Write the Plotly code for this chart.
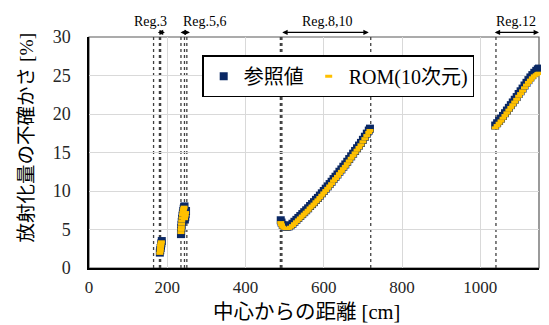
import plotly.graph_objects as go

# ---------------- data ----------------
# Reference (参照値) points: distance [cm], uncertainty [%]
ref_x = [181, 182, 183, 184, 185, 186,
         235, 235.5, 236, 236.5, 237, 238, 239, 240, 241, 242, 243, 244, 245, 246, 247, 248,
         490, 492, 495, 500, 505, 510, 515, 520, 525, 530, 535, 540, 545, 550, 555, 560, 565, 570,
         575, 580, 585, 590, 595, 600, 605, 610, 615, 620, 625, 630, 635, 640, 645, 650, 655, 660,
         665, 670, 675, 680, 685, 690, 695, 700, 705, 710, 715, 718,
         1038, 1043, 1048, 1053, 1058, 1063, 1068, 1073, 1078, 1083, 1088, 1093, 1098, 1103, 1108,
         1113, 1118, 1123, 1128, 1133, 1138, 1143, 1147, 1150]
ref_y = [2.0, 2.3, 2.6, 2.9, 3.2, 3.5,
         4.4, 4.8, 5.2, 5.6, 6.0, 6.4, 6.8, 7.1, 7.4, 7.7, 7.9, 8.0, 6.3, 6.6, 7.0, 7.4,
         6.2, 5.9, 5.6, 5.4, 5.35, 5.4, 5.55, 5.75, 6.0, 6.25, 6.5, 6.75, 7.0, 7.25, 7.5, 7.75, 8.05, 8.3,
         8.55, 8.85, 9.1, 9.4, 9.7, 10.0, 10.3, 10.6, 10.9, 11.2, 11.55, 11.85, 12.15, 12.5, 12.8, 13.15, 13.45, 13.8,
         14.15, 14.5, 14.85, 15.2, 15.55, 15.9, 16.25, 16.65, 17.05, 17.45, 17.85, 18.1,
         18.5, 18.8, 19.1, 19.4, 19.75, 20.1, 20.45, 20.8, 21.15, 21.5, 21.85, 22.2, 22.6, 22.95, 23.3,
         23.7, 24.05, 24.4, 24.75, 25.05, 25.35, 25.6, 25.8, 25.9]

# ROM (10次元) points
rom_x = [181, 182, 182.5, 183, 183.5, 184, 185,
         235, 235.5, 236, 236.5, 237, 238, 239, 240, 241, 242, 243, 244, 245, 246, 247,
         490, 492, 495, 500, 505, 510, 515, 520, 525, 530, 535, 540, 545, 550, 555, 560, 565, 570,
         575, 580, 585, 590, 595, 600, 605, 610, 615, 620, 625, 630, 635, 640, 645, 650, 655, 660,
         665, 670, 675, 680, 685, 690, 695, 700, 705, 710, 715, 718,
         1038, 1043, 1048, 1053, 1058, 1063, 1068, 1073, 1078, 1083, 1088, 1093, 1098, 1103, 1108,
         1113, 1118, 1123, 1128, 1133, 1138, 1143, 1147, 1150]
rom_y = [1.9, 2.2, 2.5, 2.8, 3.0, 3.2, 3.4,
         4.6, 5.0, 5.3, 5.7, 6.1, 6.5, 6.9, 7.2, 7.5, 7.7, 7.9, 6.4, 6.7, 6.9, 7.2,
         5.9, 5.6, 5.3, 5.15, 5.1, 5.15, 5.3, 5.5, 5.75, 6.0, 6.25, 6.5, 6.75, 7.0, 7.25, 7.5, 7.8, 8.05,
         8.3, 8.6, 8.85, 9.15, 9.45, 9.75, 10.05, 10.35, 10.65, 10.95, 11.3, 11.6, 11.9, 12.25, 12.55, 12.9, 13.2, 13.55,
         13.9, 14.25, 14.6, 14.95, 15.3, 15.65, 16.0, 16.4, 16.8, 17.2, 17.6, 17.85,
         18.2, 18.5, 18.8, 19.1, 19.45, 19.8, 20.15, 20.5, 20.85, 21.2, 21.55, 21.9, 22.3, 22.65, 23.0,
         23.4, 23.75, 24.1, 24.4, 24.7, 24.95, 25.1, 25.25, 25.3]

# region boundary lines [cm]
boundary_x = [165, 180, 183, 235, 244, 250, 489, 491, 493, 720, 1040]

# region labels and arrow spans
region_names = ["Reg.3", "Reg.5,6", "Reg.8,10", "Reg.12"]
region_label_x = [158, 296, 609, 1092]
region_arrow_start = [172, 230, 490, 1033]
region_arrow_end = [194, 258, 715, 1150]

x_ticks = [0, 200, 400, 600, 800, 1000]
y_ticks = [0, 5, 10, 15, 20, 25, 30]

x_title = "中心からの距離 [cm]"
y_title = "放射化量の不確かさ [%]"

FONT = "Liberation Serif, Noto Sans CJK JP"
NAVY = "#0A2864"
ORANGE = "#FFC000"

fig = go.Figure()
fig.add_trace(go.Scatter(
    x=ref_x, y=ref_y, mode="markers", name="参照値",
    marker=dict(symbol="square", size=8, color=NAVY, line=dict(width=0)),
    cliponaxis=False,
))
fig.add_trace(go.Scatter(
    x=rom_x, y=rom_y, mode="markers", name="ROM(10次元)",
    marker=dict(symbol="line-ew", size=5, color=ORANGE, line=dict(width=3, color=ORANGE)),
    cliponaxis=False,
))

shapes = []
for bx in boundary_x:
    shapes.append(dict(type="line", xref="x", yref="y", x0=bx, x1=bx, y0=0, y1=30,
                       line=dict(color="#404040", width=1.3, dash="dot"), layer="below"))
# plot border
shapes.append(dict(type="rect", xref="paper", yref="paper", x0=0, x1=1, y0=0, y1=1,
                   line=dict(color="#595959", width=1.2), layer="below"))

annotations = []
for name, lx, a0, a1 in zip(region_names, region_label_x, region_arrow_start, region_arrow_end):
    annotations.append(dict(x=lx, y=1.066, xref="x", yref="paper", text=name, showarrow=False,
                            yanchor="middle",
                            font=dict(family=FONT, size=14, color="#000000")))
    annotations.append(dict(x=a1, y=1.02, ax=a0, ay=0, xref="x", yref="paper", axref="x", ayref="pixel",
                            text="", showarrow=True, arrowside="end+start", arrowhead=2,
                            startarrowhead=2, arrowsize=0.9, startarrowsize=0.9, arrowwidth=1.2,
                            arrowcolor="#000000"))
# axis titles
annotations.append(dict(x=0.484, y=-0.191, xref="paper", yref="paper", text=x_title,
                        showarrow=False, xanchor="center", yanchor="middle",
                        font=dict(family=FONT, size=20.5, color="#000000")))
annotations.append(dict(x=-0.14, y=0.565, xref="paper", yref="paper", text=y_title,
                        showarrow=False, xanchor="center", yanchor="middle", textangle=-90,
                        font=dict(family=FONT, size=19.5, color="#000000")))

fig.update_layout(
    width=541, height=317,
    margin=dict(l=81, r=10, t=29, b=57),
    paper_bgcolor="white", plot_bgcolor="white",
    font=dict(family=FONT, color="#000000"),
    showlegend=True,
    legend=dict(orientation="h", x=0.252, y=0.92, xanchor="left", yanchor="top",
                bgcolor="white", bordercolor="#000000", borderwidth=1.3,
                font=dict(family=FONT, size=20, color="#000000")),
    shapes=shapes,
    annotations=annotations,
    xaxis=dict(range=[0, 1150], tickvals=x_ticks, ticktext=[str(v) for v in x_ticks],
               showgrid=True, gridcolor="#d9d9d9", gridwidth=1, zeroline=False,
               showline=True, linecolor="#000000", linewidth=1.5,
               ticks="", ticklabelstandoff=3,
               tickfont=dict(family=FONT, size=17, color="#262626")),
    yaxis=dict(range=[0, 30], tickvals=y_ticks, ticktext=[str(v) for v in y_ticks],
               showgrid=True, gridcolor="#d9d9d9", gridwidth=1, zeroline=False,
               showline=True, linecolor="#000000", linewidth=1.5,
               ticks="", ticklabelstandoff=13,
               tickfont=dict(family=FONT, size=18, color="#262626")),
)

fig.write_html("out.html")
